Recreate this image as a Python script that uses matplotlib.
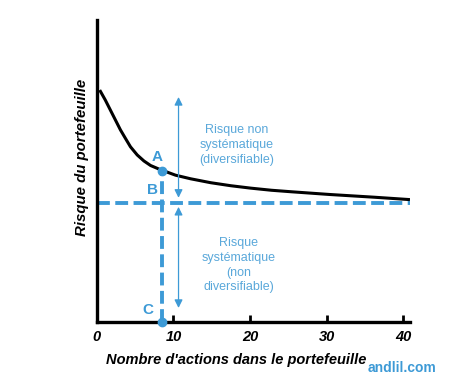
import matplotlib.pyplot as plt

plt.rcParams['font.family'] = ['Liberation Sans', 'DejaVu Sans']

# ---------------------- Data ----------------------

# number of stocks vs portfolio risk (arbitrary units)
n_stocks = [0.36, 1.09, 1.75, 2.41, 3.07, 3.72, 4.38, 5.26, 6.14, 7.01,
            8.12, 10.26, 12.24, 14.87, 17.5, 20.1, 22.8, 25.4, 30.4, 36.2, 40.9]
risk = [76.8, 73.5, 70.2, 66.9, 63.6, 60.8, 58.0, 55.3, 53.3, 51.8,
        50.6, 48.6, 47.4, 46.1, 45.1, 44.3, 43.6, 43.1, 42.2, 41.3, 40.5]

systematic_risk = 39.4
point_a = (8.55, 50.0)

x_ticks = [0, 10, 20, 30, 40]
x_ticklabels = ['0', '10', '20', '30', '40']

BLUE = '#3d9ad6'
TEXT_BLUE = '#5aa8da'

# ---------------------- Plot ----------------------

fig = plt.figure(figsize=(4.53, 3.85), dpi=100)
ax = fig.add_axes([0.214, 0.164, 0.691, 0.784])

ax.plot(n_stocks, risk, color='black', lw=2.2, solid_capstyle='butt',
        solid_joinstyle='round', zorder=3)

# systematic risk line and point A drop line
ax.axhline(systematic_risk, color=BLUE, lw=2.8, ls=(0, (3.3, 1.4)), zorder=2)
ax.plot([point_a[0], point_a[0]], [0, point_a[1]], color=BLUE, lw=2.8,
        ls=(0, (3.3, 1.4)), zorder=2, clip_on=False)
ax.plot([point_a[0], point_a[0]], [point_a[1], 0], 'o', color=BLUE, ms=6,
        zorder=4, clip_on=False)

# arrows
arrow_x = 10.66
arr = dict(arrowstyle='<|-|>', color=BLUE, lw=0.9, mutation_scale=12,
           shrinkA=0, shrinkB=0)
ax.annotate('', xy=(arrow_x, 74.5), xytext=(arrow_x, 41.1), arrowprops=arr)
ax.annotate('', xy=(arrow_x, 38.1), xytext=(arrow_x, 4.6), arrowprops=arr)

ax.text(18.3, 58.6, 'Risque non\nsystématique\n(diversifiable)', color=TEXT_BLUE,
        fontsize=9, ha='center', va='center', linespacing=1.3)
ax.text(18.5, 18.7, 'Risque\nsystématique\n(non\ndiversifiable)', color=TEXT_BLUE,
        fontsize=9, ha='center', va='center', linespacing=1.3)

ax.text(7.9, 54.6, 'A', color=BLUE, fontsize=11, fontweight='bold', ha='center', va='center')
ax.text(7.2, 43.7, 'B', color=BLUE, fontsize=11, fontweight='bold', ha='center', va='center')
ax.text(6.7, 4.0, 'C', color=BLUE, fontsize=11, fontweight='bold', ha='center', va='center')

# ---------------------- Axes ----------------------

ax.set_xlim(0, 40.9)
ax.set_ylim(0, 100)
ax.spines['top'].set_visible(False)
ax.spines['right'].set_visible(False)
ax.spines['left'].set_linewidth(2.4)
ax.spines['bottom'].set_linewidth(2.4)

ax.set_xticks(x_ticks)
ax.set_xticklabels(x_ticklabels, fontsize=10.5, fontweight='bold', fontstyle='italic')
ax.tick_params(axis='x', direction='in', length=5, width=2, pad=6)
ax.set_yticks([])

fig.text(236 / 453, 1 - 360 / 385, "Nombre d'actions dans le portefeuille",
         fontsize=10.5, fontweight='bold', fontstyle='italic',
         ha='center', va='center')
fig.text(82 / 453, 1 - 157 / 385, 'Risque du portefeuille', fontsize=10.8,
         fontweight='bold', fontstyle='italic', rotation=90,
         ha='center', va='center')

fig.text(402 / 453, 1 - 368 / 385, 'andlil.com', color=BLUE, fontsize=10,
         fontweight='bold', ha='center', va='center')

fig.savefig('out.png', dpi=100)
